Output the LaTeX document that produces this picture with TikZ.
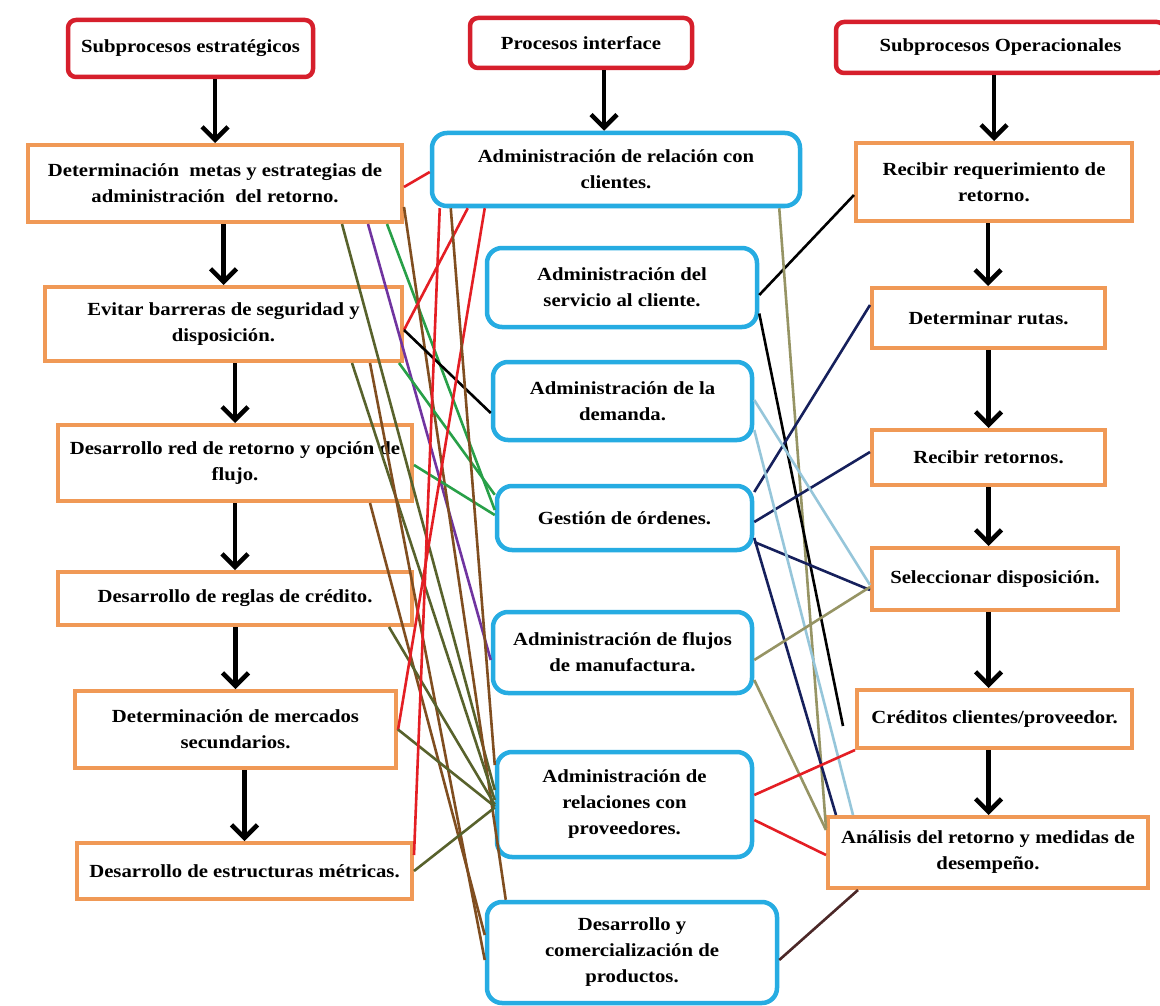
\documentclass[tikz,border=0pt]{standalone}
\usepackage{fontspec}
\setmainfont{Liberation Serif}[FakeStretch=1.12]
\usetikzlibrary{arrows.meta}

\definecolor{hdred}{RGB}{214,31,44}
\definecolor{orbox}{RGB}{240,153,86}
\definecolor{blbox}{RGB}{38,172,226}
\definecolor{lnred}{RGB}{228,30,36}
\definecolor{lnolive}{RGB}{88,98,44}
\definecolor{lnbrown}{RGB}{128,78,32}
\definecolor{lngreen}{RGB}{40,160,72}
\definecolor{lnpurple}{RGB}{112,52,160}
\definecolor{lnnavy}{RGB}{22,32,92}
\definecolor{lnlight}{RGB}{150,198,218}
\definecolor{lnkhaki}{RGB}{150,148,100}
\definecolor{lndark}{RGB}{76,40,40}

\begin{document}
\begin{tikzpicture}[x=1pt,y=-1pt,
  every node/.style={font=\fontsize{18.5}{26}\selectfont\bfseries, align=center, inner sep=0pt},
  head/.style={draw=hdred, line width=4.5pt, rounded corners=8pt, fill=white},
  obox/.style={draw=orbox, line width=4pt, fill=white},
  bbox/.style={draw=blbox, line width=4.5pt, rounded corners=15pt, fill=white},
  flow/.style={line width=4.5pt, -{Straight Barb[length=13pt,width=26pt]}},
  link/.style={line width=2.6pt},
]
\useasboundingbox (0,0) rectangle (1160,1006);
\fill[white] (0,0) rectangle (1160,1006);

% column headers
\node[head, minimum width=245pt, minimum height=57pt] (hL) at (190.5,48.5) {Subprocesos estratégicos};
\node[head, minimum width=222pt, minimum height=50pt] (hM) at (581,43) {Procesos interface};
\node[head, minimum width=329pt, minimum height=51pt] (hR) at (1000.5,47.5) {Subprocesos Operacionales};

% strategic subprocesses
\node[obox, minimum width=374pt, minimum height=77pt] (b1) at (215,183.5) {Determinación\ \ metas y estrategias de\\administración\ \ del retorno.};
\node[obox, minimum width=357pt, minimum height=74pt] (b2) at (223.5,324) {Evitar barreras de seguridad y\\disposición.};
\node[obox, minimum width=354pt, minimum height=76pt] (b3) at (235,463) {Desarrollo red de retorno y opción de\\flujo.};
\node[obox, minimum width=354pt, minimum height=53pt] (b4) at (235,598.5) {Desarrollo de reglas de crédito.};
\node[obox, minimum width=321pt, minimum height=77pt] (b5) at (235.5,729.5) {Determinación de mercados\\secundarios.};
\node[obox, minimum width=335pt, minimum height=56pt] (b6) at (244.5,871) {Desarrollo de estructuras métricas.};

% interface processes
\node[bbox, minimum width=368pt, minimum height=73pt] (m1) at (616,169.5) {Administración de relación con\\clientes.};
\node[bbox, minimum width=270pt, minimum height=79pt] (m2) at (622,287.5) {Administración del\\servicio al cliente.};
\node[bbox, minimum width=259pt, minimum height=78pt] (m3) at (622.5,401) {Administración de la\\demanda.};
\node[bbox, minimum width=255pt, minimum height=64pt] (m4) at (624.5,518) {Gestión de órdenes.};
\node[bbox, minimum width=259pt, minimum height=81pt] (m5) at (622.5,652.5) {Administración de flujos\\de manufactura.};
\node[bbox, minimum width=255pt, minimum height=105pt] (m6) at (624.5,804.5) {Administración de\\relaciones con\\proveedores.};
\node[bbox, minimum width=290pt, minimum height=101pt] (m7) at (632,952.5) {Desarrollo y\\comercialización de\\productos.};

% operational subprocesses
\node[obox, minimum width=276pt, minimum height=78pt] (r1) at (994,182) {Recibir requerimiento de\\retorno.};
\node[obox, minimum width=233pt, minimum height=60pt] (r2) at (988.5,318) {Determinar rutas.};
\node[obox, minimum width=233pt, minimum height=55pt] (r3) at (988.5,457.5) {Recibir retornos.};
\node[obox, minimum width=246pt, minimum height=62pt] (r4) at (995,579) {Seleccionar disposición.};
\node[obox, minimum width=275pt, minimum height=58pt] (r5) at (994.5,719) {Créditos clientes/proveedor.};
\node[obox, minimum width=320pt, minimum height=71pt] (r6) at (988,852.5) {Análisis del retorno y medidas de\\desempeño.};

% links between strategic and interface processes
\draw[link, lnred]    ([yshift=-3.5pt]b1.east) -- ([yshift=-2.5pt]m1.west);
\draw[link, lnolive]  ([xshift=127pt]b1.south) -- ([yshift=14.5pt]m6.west);
\draw[link, lnpurple] ([xshift=153pt]b1.south) -- ([yshift=-7.5pt]m5.west);
\draw[link, lngreen]  ([xshift=172pt]b1.south) -- ([yshift=8pt]m4.west);
\draw[link, lnbrown]  ([yshift=17pt]b1.south east) -- ([xshift=21pt]m7.north west);
\draw[link, lnred]    ([yshift=-6pt]b2.east) -- ([xshift=38pt]m1.south west);
\draw[link, black]    ([yshift=-6pt]b2.east) -- ([yshift=-12pt]m3.west);
\draw[link, lngreen]  ([xshift=-5pt]b2.south east) -- ([yshift=-11pt]m4.north west);
\draw[link, lnolive]  ([xshift=-52pt]b2.south east) -- ([yshift=4.5pt]m6.west);
\draw[link, lnbrown]  ([xshift=-34pt]b2.south east) -- ([yshift=-7.5pt]m7.west);
\draw[link, lngreen]  ([yshift=-2pt]b3.east) -- ([yshift=3pt]m4.west);
\draw[link, lnbrown]  ([xshift=-44pt]b3.south east) -- ([yshift=17.5pt]m7.west);
\draw[link, lnolive]  ([xshift=-25pt]b4.south east) -- (m6.west);
\draw[link, lnred]    ([yshift=-0.5pt]b5.east) -- ([xshift=55pt]m1.south west);
\draw[link, lnolive]  (b5.east) -- ([yshift=-2pt]m6.west);
\draw[link, lnred]    ([yshift=16pt]b6.east) -- ([xshift=10pt]m1.south west);
\draw[link, lnolive]  (b6.east) -- ([yshift=-3pt]m6.west);
\draw[link, lnbrown]  ([xshift=21pt]m1.south west) -- ([yshift=39.5pt]m6.west);

% links between interface and operational processes
\draw[link, black]   ([yshift=-7.5pt]m2.east) -- ([yshift=-13pt]r1.west);
\draw[link, lnkhaki] ([xshift=-23pt]m1.south east) -- ([yshift=-13pt]r6.north west);
\draw[link, black]   ([yshift=-26pt]m2.east) -- ([xshift=-12pt,yshift=-7pt]r5.west);
\draw[link, lnnavy]  ([yshift=26pt]m4.east) -- ([yshift=13pt]r2.west);
\draw[link, lnnavy]  ([yshift=-4pt]m4.east) -- ([yshift=5.5pt]r3.west);
\draw[link, lnnavy]  ([yshift=-24pt]m4.east) -- ([yshift=-11pt]r4.west);
\draw[link, lnnavy]  ([yshift=-20pt]m4.east) -- ([xshift=10pt]r6.north west);
\draw[link, lnlight] ([yshift=1pt]m3.east) -- ([yshift=-6pt]r4.west);
\draw[link, lnlight] ([yshift=-29pt]m3.east) -- ([xshift=27pt]r6.north west);
\draw[link, lnkhaki] ([yshift=-7.5pt]m5.east) -- ([yshift=-8pt]r4.west);
\draw[link, lnkhaki] ([yshift=-27.5pt]m5.east) -- ([yshift=-15pt]r6.north west);
\draw[link, lnred]   ([yshift=9.5pt]m6.east) -- (r5.south west);
\draw[link, lnred]   ([yshift=-15.5pt]m6.east) -- ([yshift=-2.5pt]r6.west);
\draw[link, lndark]  ([yshift=-7.5pt]m7.east) -- ([xshift=32pt]r6.south west);

% flow arrows within each column
\draw[flow] (hL.south -| b1.north) -- (b1.north);
\draw[flow] (b1.south -| b2.north) -- (b2.north);
\draw[flow] (b2.south -| b3.north) -- (b3.north);
\draw[flow] (b3.south -| b4.north) -- (b4.north);
\draw[flow] (b4.south -| b5.north) -- (b5.north);
\draw[flow] (b5.south -| b6.north) -- (b6.north);

\draw[flow] ([xshift=23pt]hM.south) -- ([xshift=-12pt]m1.north);

\draw[flow] (hR.south -| r1.north) -- (r1.north);
\draw[flow] ([xshift=-6pt]r1.south) -- ([xshift=-0.5pt]r2.north);
\draw[flow] (r2.south) -- (r3.north);
\draw[flow] (r3.south) -- ([xshift=-6.5pt]r4.north);
\draw[flow] ([xshift=-6.5pt]r4.south) -- ([xshift=-6pt]r5.north);
\draw[flow] ([xshift=-6pt]r5.south) -- ([xshift=0.5pt]r6.north);
\end{tikzpicture}
\end{document}
